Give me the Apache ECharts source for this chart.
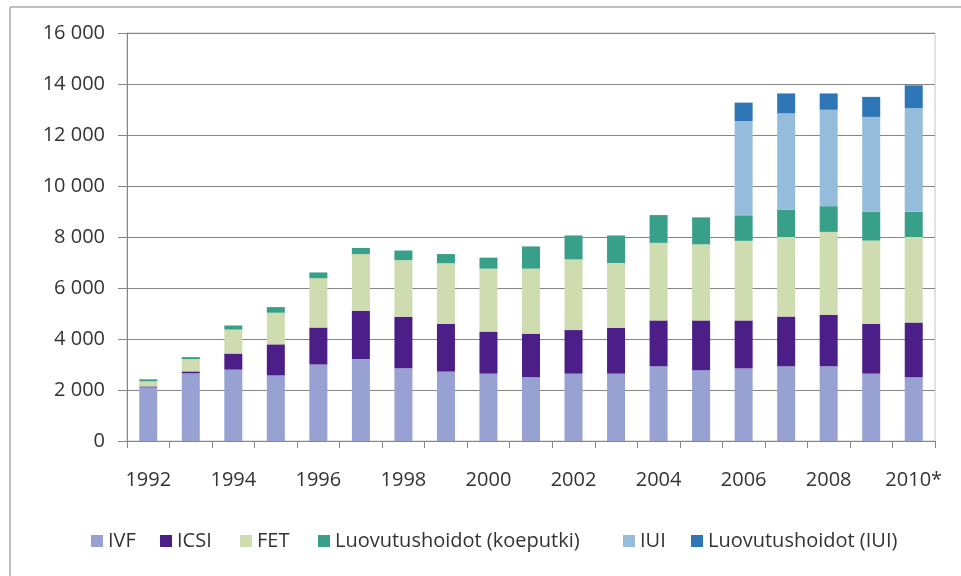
<!DOCTYPE html>
<html>
<head>
<meta charset="utf-8">
<script src="https://cdn.jsdelivr.net/npm/echarts@6/dist/echarts.min.js"></script>
<style>
html,body{margin:0;padding:0;background:#fff;}
#chart{width:961px;height:576px;}
</style>
</head>
<body>
<div id="chart"></div>
<script>
const categories = ['1992','1993','1994','1995','1996','1997','1998','1999','2000','2001','2002','2003','2004','2005','2006','2007','2008','2009','2010*'];
const ivf = [2100, 2650, 2800, 2570, 3000, 3210, 2850, 2720, 2640, 2500, 2640, 2640, 2930, 2780, 2850, 2930, 2930, 2640, 2500];
const icsi = [40, 80, 630, 1220, 1450, 1900, 2020, 1870, 1650, 1710, 1710, 1800, 1800, 1950, 1880, 1950, 2020, 1950, 2150];
const fet = [200, 480, 940, 1240, 1930, 2220, 2220, 2380, 2470, 2550, 2770, 2540, 3040, 2980, 3120, 3120, 3250, 3270, 3350];
const luovKoeputki = [80, 80, 160, 220, 230, 240, 380, 360, 430, 870, 940, 1080, 1090, 1060, 1000, 1070, 1010, 1140, 990];
const iui = [null, null, null, null, null, null, null, null, null, null, null, null, null, null, 3700, 3780, 3780, 3710, 4060];
const luovIui = [null, null, null, null, null, null, null, null, null, null, null, null, null, null, 720, 780, 640, 785, 900];
const seriesNames = ['IVF', 'ICSI', 'FET', 'Luovutushoidot (koeputki)', 'IUI', 'Luovutushoidot (IUI)'];
const yTicks = [0, 2000, 4000, 6000, 8000, 10000, 12000, 14000, 16000];

const colors = ['#97a2d3', '#4b1f87', '#cfdcb0', '#38a089', '#95bddb', '#2f76b7'];
const dataSets = [ivf, icsi, fet, luovKoeputki, iui, luovIui];
const legendLeft = [86, 155, 235, 313, 618, 686];
const font = "'Open Sans', sans-serif";

const chart = echarts.init(document.getElementById('chart'), null, {renderer: 'canvas'});
const fmt = v => { const s = String(v); return s.length > 3 ? s.slice(0, s.length - 3) + ' ' + s.slice(-3) : s; };

chart.setOption({
  animation: false,
  backgroundColor: '#ffffff',
  textStyle: {fontFamily: font},
  graphic: [
    {type: 'line', shape: {x1: 10, y1: 7, x2: 961, y2: 7}, style: {stroke: '#a8a8a8', lineWidth: 1.5}},
    {type: 'line', shape: {x1: 10, y1: 7, x2: 10, y2: 576}, style: {stroke: '#a8a8a8', lineWidth: 1.5}}
  ],
  grid: {left: 127, right: 26, top: 33, bottom: 135, show: true, borderColor: '#c4c4c4', borderWidth: 1, containLabel: false},
  legend: seriesNames.map((n, i) => ({
    data: [n], left: legendLeft[i], top: 525, itemWidth: 12, itemHeight: 12, itemGap: 0,
    icon: 'rect', textStyle: {fontFamily: font, fontSize: 20, color: '#333', lineHeight: 22}, selectedMode: false
  })),
  xAxis: {
    type: 'category', data: categories,
    axisLine: {lineStyle: {color: '#868686', width: 1}},
    axisTick: {show: true, interval: 0, length: 7, lineStyle: {color: '#868686'}},
    axisLabel: {interval: 1, margin: 29, fontSize: 20, color: '#333', fontFamily: font},
    splitLine: {show: false}
  },
  yAxis: {
    type: 'value', min: 0, max: 16000, interval: 2000,
    axisLine: {show: true, lineStyle: {color: '#868686', width: 1}},
    axisTick: {show: true, length: 9, lineStyle: {color: '#868686'}},
    axisLabel: {margin: 22, fontSize: 20, color: '#333', fontFamily: font,
      formatter: v => yTicks.includes(v) ? fmt(v) : ''},
    splitLine: {show: true, lineStyle: {color: '#868686', width: 1}}
  },
  series: seriesNames.map((n, i) => ({
    name: n, type: 'bar', stack: 'total', data: dataSets[i], barWidth: 18,
    itemStyle: {color: colors[i]}
  }))
});
</script>
</body>
</html>
